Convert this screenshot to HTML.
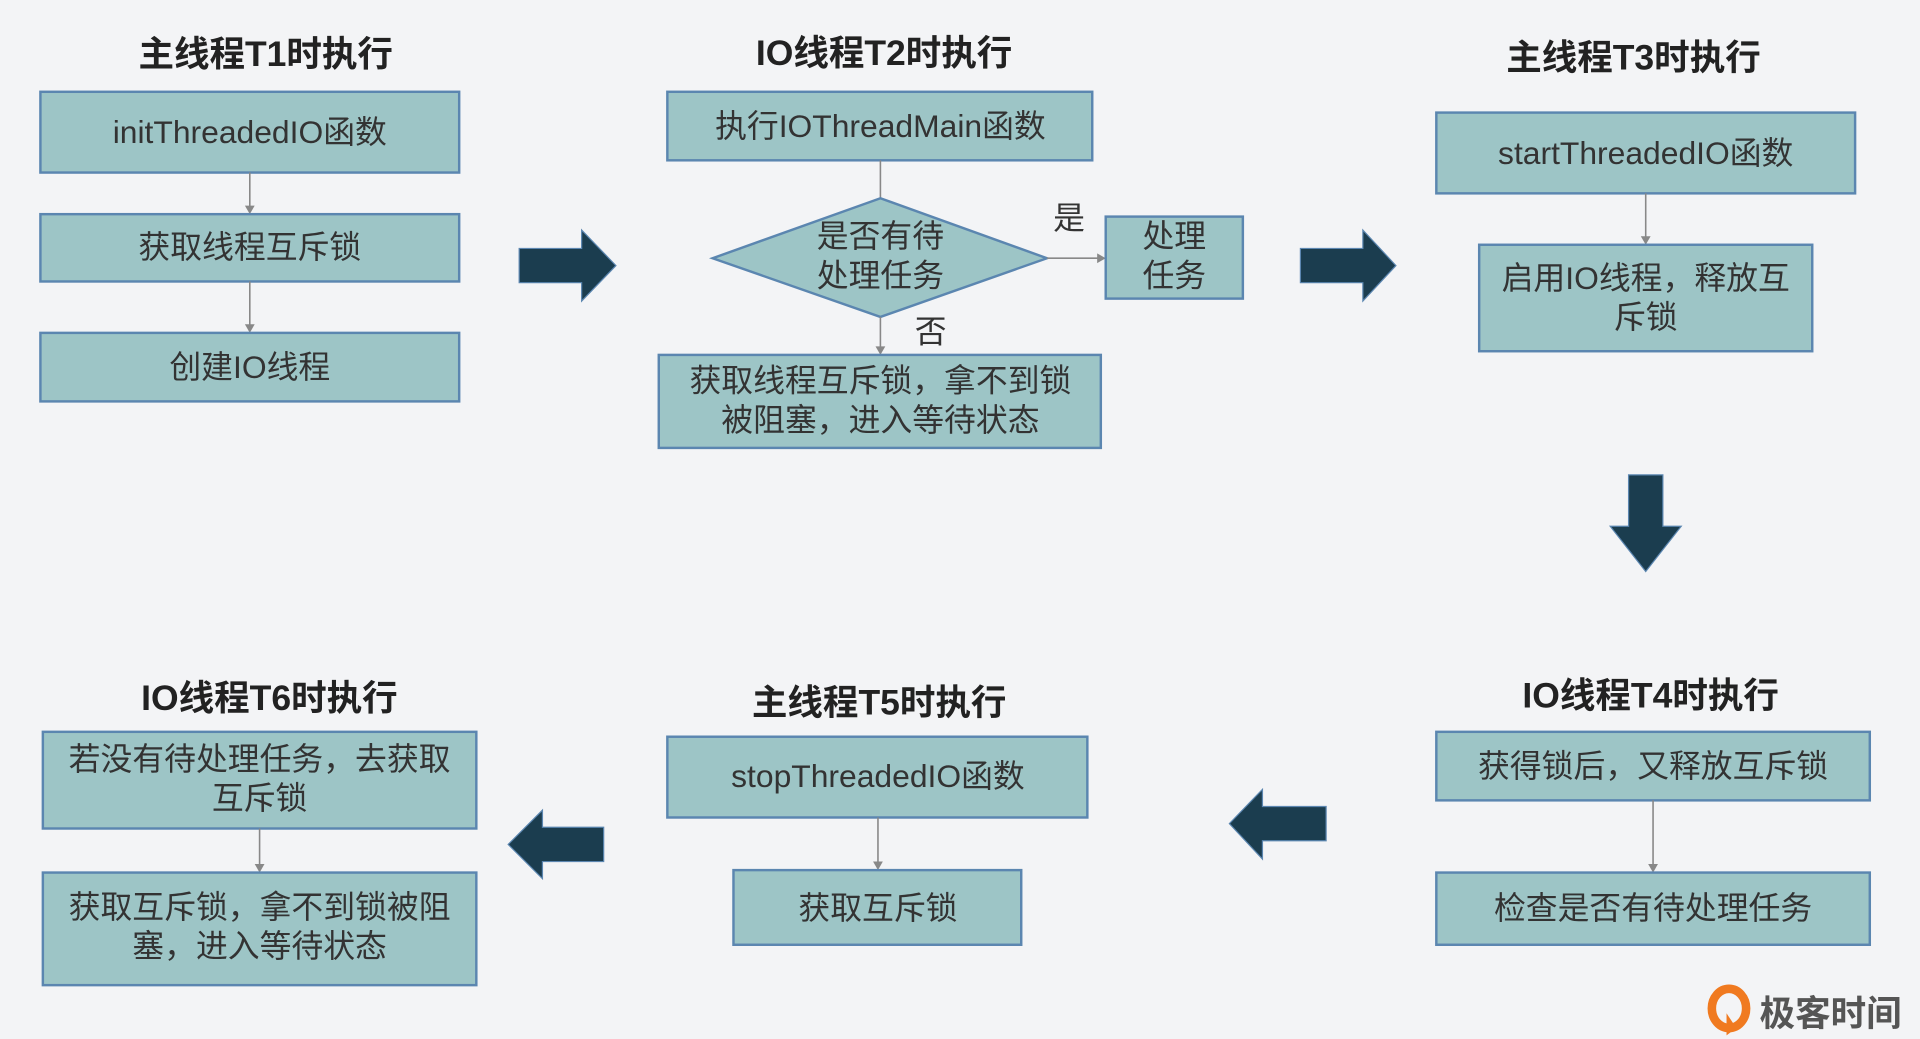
<!DOCTYPE html>
<html><head><meta charset="utf-8"><style>
html,body{margin:0;padding:0;background:#f3f4f6;}
svg{display:block}
text{font-family:"Liberation Sans","Noto Sans CJK SC",sans-serif;fill:#333;}
.t{font-weight:bold;font-size:29px;fill:#222;}
.b{font-size:26px;}
rect.n,polygon.n{fill:#9dc5c6;stroke:#5b86b0;stroke-width:2;}
line{stroke:#888;stroke-width:1.3;}
.ar{fill:#1b3d4f;stroke:#5b86b0;stroke-width:1;}
.ah{fill:#888;}
</style></head><body>
<svg width="1920" height="1039" viewBox="0 0 1568 849" preserveAspectRatio="none">
<rect width="1568" height="849" fill="#f3f4f6"/>
<!-- T1 -->
<text class="t" x="217" y="54" text-anchor="middle">主线程T1时执行</text>
<rect class="n" x="33" y="75" width="342" height="66"/>
<text class="b" x="204" y="117" text-anchor="middle">initThreadedIO函数</text>
<line x1="204" y1="141" x2="204" y2="170"/><polygon class="ah" points="200,168 208,168 204,175"/>
<rect class="n" x="33" y="175" width="342" height="55"/>
<text class="b" x="204" y="211" text-anchor="middle">获取线程互斥锁</text>
<line x1="204" y1="230" x2="204" y2="267"/><polygon class="ah" points="200,265 208,265 204,272"/>
<rect class="n" x="33" y="272" width="342" height="56"/>
<text class="b" x="204" y="309" text-anchor="middle">创建IO线程</text>
<polygon class="ar" points="424,203 475,203 475,188 503,217 475,246 475,231 424,231"/>
<!-- T2 -->
<text class="t" x="722" y="53" text-anchor="middle">IO线程T2时执行</text>
<rect class="n" x="545" y="75" width="347" height="56"/>
<text class="b" x="719" y="112" text-anchor="middle">执行IOThreadMain函数</text>
<line x1="719" y1="131" x2="719" y2="162"/>
<polygon class="n" points="719,162 855,211 719,259 582,211"/>
<text class="b" x="719" y="202" text-anchor="middle">是否有待</text>
<text class="b" x="719" y="234" text-anchor="middle">处理任务</text>
<line x1="855" y1="211" x2="898" y2="211"/><polygon class="ah" points="896,207 896,215 903,211"/>
<text class="b" x="873" y="187" text-anchor="middle">是</text>
<rect class="n" x="903" y="177" width="112" height="67"/>
<text class="b" x="959" y="202" text-anchor="middle">处理</text>
<text class="b" x="959" y="234" text-anchor="middle">任务</text>
<text class="b" x="760" y="280" text-anchor="middle">否</text>
<line x1="719" y1="259" x2="719" y2="285"/><polygon class="ah" points="715,283 723,283 719,290"/>
<rect class="n" x="538" y="290" width="361" height="76"/>
<text class="b" x="719" y="320" text-anchor="middle">获取线程互斥锁，拿不到锁</text>
<text class="b" x="719" y="352" text-anchor="middle">被阻塞，进入等待状态</text>
<polygon class="ar" points="1062,203 1113,203 1113,188 1140,217 1113,246 1113,231 1062,231"/>
<!-- T3 -->
<text class="t" x="1334" y="57" text-anchor="middle">主线程T3时执行</text>
<rect class="n" x="1173" y="92" width="342" height="66"/>
<text class="b" x="1344" y="134" text-anchor="middle">startThreadedIO函数</text>
<line x1="1344" y1="158" x2="1344" y2="195"/><polygon class="ah" points="1340,193 1348,193 1344,200"/>
<rect class="n" x="1208" y="200" width="272" height="87"/>
<text class="b" x="1344" y="236" text-anchor="middle">启用IO线程，释放互</text>
<text class="b" x="1344" y="268" text-anchor="middle">斥锁</text>
<polygon class="ar" points="1330,388 1358,388 1358,430 1373,430 1344,467 1315,430 1330,430"/>
<!-- T4 -->
<text class="t" x="1348" y="578" text-anchor="middle">IO线程T4时执行</text>
<rect class="n" x="1173" y="598" width="354" height="56"/>
<text class="b" x="1350" y="635" text-anchor="middle">获得锁后，又释放互斥锁</text>
<line x1="1350" y1="654" x2="1350" y2="708"/><polygon class="ah" points="1346,706 1354,706 1350,713"/>
<rect class="n" x="1173" y="713" width="354" height="59"/>
<text class="b" x="1350" y="751" text-anchor="middle">检查是否有待处理任务</text>
<polygon class="ar" points="1083,659 1031,659 1031,645 1004,673 1031,702 1031,687 1083,687"/>
<!-- T5 -->
<text class="t" x="718" y="584" text-anchor="middle">主线程T5时执行</text>
<rect class="n" x="545" y="602" width="343" height="66"/>
<text class="b" x="717" y="643" text-anchor="middle">stopThreadedIO函数</text>
<line x1="717" y1="668" x2="717" y2="706"/><polygon class="ah" points="713,704 721,704 717,711"/>
<rect class="n" x="599" y="711" width="235" height="61"/>
<text class="b" x="717" y="751" text-anchor="middle">获取互斥锁</text>
<polygon class="ar" points="493,676 443,676 443,662 415,690 443,718 443,704 493,704"/>
<!-- T6 -->
<text class="t" x="220" y="580" text-anchor="middle">IO线程T6时执行</text>
<rect class="n" x="35" y="598" width="354" height="79"/>
<text class="b" x="212" y="629" text-anchor="middle">若没有待处理任务，去获取</text>
<text class="b" x="212" y="661" text-anchor="middle">互斥锁</text>
<line x1="212" y1="677" x2="212" y2="708"/><polygon class="ah" points="208,706 216,706 212,713"/>
<rect class="n" x="35" y="713" width="354" height="92"/>
<text class="b" x="212" y="750" text-anchor="middle">获取互斥锁，拿不到锁被阻</text>
<text class="b" x="212" y="782" text-anchor="middle">塞，进入等待状态</text>
<!-- logo -->
<ellipse cx="1412" cy="824" rx="14" ry="16" fill="none" stroke="#f07a20" stroke-width="7"/>
<path d="M1410,828 L1410,846 L1418,840 Z" fill="#f07a20"/>
<text x="1437" y="838" style="font-size:29px;font-weight:bold;fill:#555;">极客时间</text>
</svg>
</body></html>
